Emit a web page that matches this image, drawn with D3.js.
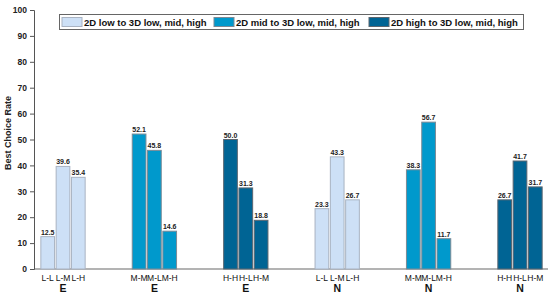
<!DOCTYPE html>
<html>
<head>
<meta charset="utf-8">
<script src="https://cdn.jsdelivr.net/npm/d3@7"></script>
<style>
  body { margin: 0; background: #fff; }
  text { font-family: "Liberation Sans", Arial, sans-serif; }
</style>
</head>
<body>
<svg></svg>
<script>
// chart data
const groups = ["E", "E", "E", "N", "N", "N"]
const pairLabels = [
  ["L-L", "L-M", "L-H"],
  ["M-M", "M-L", "M-H"],
  ["H-H", "H-L", "H-M"],
  ["L-L", "L-M", "L-H"],
  ["M-M", "M-L", "M-H"],
  ["H-H", "H-L", "H-M"]
]
const values = [
  [12.5, 39.6, 35.4],
  [52.1, 45.8, 14.6],
  [50.0, 31.3, 18.8],
  [23.3, 43.3, 26.7],
  [38.3, 56.7, 11.7],
  [26.7, 41.7, 31.7]
]
const seriesNames = ["2D low to 3D low, mid, high", "2D mid to 3D low, mid, high", "2D high to 3D low, mid, high"]
const seriesOfGroup = [0, 1, 2, 0, 1, 2]
const yTicks = [0, 10, 20, 30, 40, 50, 60, 70, 80, 90, 100]

const colors = ["#cde0f6", "#0099cc", "#006494"]
const strokes = ["#a9b3c2", "#7b8a96", "#5b6670"]

const width = 548, height = 298
const svg = d3.select("svg").attr("width", width).attr("height", height)

const yScale = d3.scaleLinear().domain([0, 100]).range([269, 10])
const xScale = d3.scaleLinear().domain([0, 5]).range([63, 520])
const barStep = 15.3, barW = 13.7

// x baseline
svg.append("line")
  .attr("x1", 34).attr("x2", width)
  .attr("y1", yScale(0)).attr("y2", yScale(0))
  .attr("stroke", "#9a9a9a").attr("stroke-width", 1.5)

// y axis
const yAxis = svg.append("g")
  .attr("transform", "translate(34,0)")
  .call(d3.axisLeft(yScale).tickValues(yTicks).tickSize(4).tickPadding(3))
yAxis.select(".domain").attr("stroke", "#555")
yAxis.selectAll(".tick line").attr("stroke", "#555")
yAxis.selectAll("text")
  .attr("font-size", 8.5).attr("font-weight", "bold").attr("fill", "#222")

svg.append("text")
  .attr("transform", "translate(11,133) rotate(-90)")
  .attr("text-anchor", "middle")
  .attr("font-size", 9).attr("font-weight", "bold").attr("fill", "#222")
  .text("Best Choice Rate")

// bars
values.forEach((vals, gi) => {
  const s = seriesOfGroup[gi]
  const g = svg.append("g")
  vals.forEach((v, bi) => {
    const cx = xScale(gi) + (bi - 1) * barStep
    g.append("rect")
      .attr("x", cx - barW / 2)
      .attr("width", barW)
      .attr("y", yScale(v))
      .attr("height", yScale(0) - yScale(v))
      .attr("fill", colors[s])
      .attr("stroke", strokes[s])
      .attr("stroke-width", 1)
    g.append("text")
      .attr("x", cx).attr("y", yScale(v) - 2)
      .attr("text-anchor", "middle")
      .attr("font-size", 7).attr("font-weight", "bold").attr("fill", "#222")
      .text(v.toFixed(1))
    g.append("text")
      .attr("x", cx).attr("y", 281)
      .attr("text-anchor", "middle")
      .attr("font-size", 8.5).attr("fill", "#111")
      .text(pairLabels[gi][bi])
  })
  g.append("text")
    .attr("x", xScale(gi)).attr("y", 292)
    .attr("text-anchor", "middle")
    .attr("font-size", 10.5).attr("font-weight", "bold").attr("fill", "#111")
    .text(groups[gi])
})

// legend
const legend = svg.append("g")
legend.append("rect")
  .attr("x", 59.5).attr("y", 14.5).attr("width", 464).attr("height", 15)
  .attr("fill", "#fff").attr("stroke", "#666")
const legX = [62, 214, 369]
seriesNames.forEach((name, i) => {
  legend.append("rect")
    .attr("x", legX[i]).attr("y", 17.5).attr("width", 20).attr("height", 9)
    .attr("fill", colors[i]).attr("stroke", strokes[i])
  legend.append("text")
    .attr("x", legX[i] + 22).attr("y", 25.5)
    .attr("font-size", 9.5).attr("font-weight", "bold").attr("fill", "#111")
    .text(name)
})
</script>
</body>
</html>
